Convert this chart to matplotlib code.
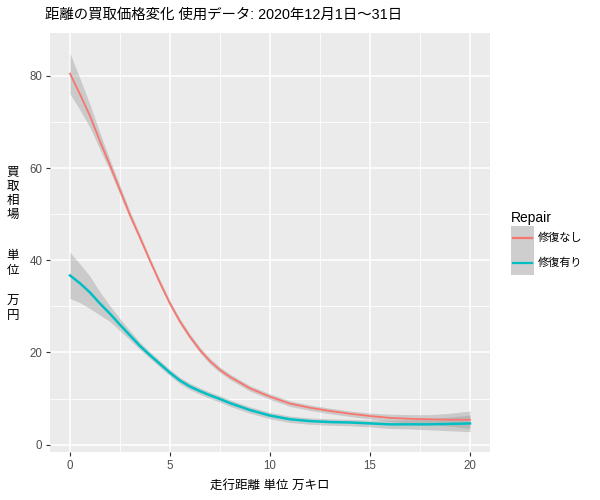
import numpy as np
import matplotlib.pyplot as plt
from matplotlib.patches import Rectangle
from matplotlib.lines import Line2D
from matplotlib.legend_handler import HandlerBase

plt.rcParams['font.family'] = ['Liberation Sans', 'Noto Sans CJK JP', 'DejaVu Sans']

# 走行距離 (万キロ) と買取相場 (万円) の平滑化曲線
kyori = np.array([0, 0.5, 1, 1.5, 2, 2.5, 3, 3.5, 4, 4.5, 5, 5.5, 6, 6.5, 7, 7.5, 8,
                  9, 10, 11, 12, 13, 14, 15, 16, 17, 18, 19, 20])
nashi = np.array([80.5, 76.0, 71.3, 65.8, 60.6, 55.2, 49.8, 44.9, 39.9, 35.1, 30.6,
                  26.7, 23.4, 20.5, 18.1, 16.2, 14.7, 12.2, 10.4, 8.9, 8.0, 7.3,
                  6.7, 6.2, 5.8, 5.6, 5.5, 5.4, 5.4])
ari = np.array([36.7, 35.0, 33.0, 30.6, 28.4, 26.0, 23.7, 21.4, 19.4, 17.5, 15.6,
                13.9, 12.6, 11.6, 10.7, 9.9, 9.0, 7.5, 6.3, 5.5, 5.1, 4.9,
                4.8, 4.6, 4.4, 4.4, 4.4, 4.5, 4.6])
# 信頼区間の半幅
nashi_se = np.array([4.4, 3.4, 2.5, 1.8, 1.2, 1.0, 0.8, 0.7, 0.6, 0.6, 0.6,
                     0.6, 0.6, 0.6, 0.6, 0.6, 0.6, 0.6, 0.6, 0.6, 0.6, 0.6,
                     0.6, 0.65, 0.8, 0.9, 1.0, 1.4, 1.9])
ari_se = np.array([5.0, 4.2, 3.5, 2.5, 1.7, 1.3, 1.0, 0.8, 0.7, 0.7, 0.7,
                   0.7, 0.7, 0.7, 0.7, 0.7, 0.7, 0.7, 0.7, 0.7, 0.7, 0.7,
                   0.7, 0.75, 0.9, 1.0, 1.2, 1.5, 1.8])

groups = ['修復なし', '修復有り']
colors = ['#F8766D', '#00BFC4']
widths = [1.3, 1.8]


class SmoothKey(HandlerBase):
    # ggplotの凡例キー: 灰色の帯 + 中央の線
    def create_artists(self, legend, orig_handle, xdescent, ydescent,
                       width, height, fontsize, trans):
        x0, y0 = -xdescent, -ydescent
        box = Rectangle((x0, y0), width, height, facecolor='#CECECE',
                        edgecolor='none', transform=trans)
        line = Line2D([x0 + 1.5, x0 + width - 1.5], [y0 + height / 2] * 2,
                      color=orig_handle.get_color(), lw=1.6, transform=trans)
        return [box, line]


fig = plt.figure(figsize=(6, 5), dpi=100)
ax = fig.add_axes([50 / 600, 48 / 500, 440 / 600, 419 / 500])
ax.set_facecolor('#EBEBEB')
for s in ax.spines.values():
    s.set_visible(False)

ax.set_xlim(-1, 21)
ax.set_ylim(-1.6, 89.3)
ax.set_xticks([0, 5, 10, 15, 20])
ax.set_xticks([2.5, 7.5, 12.5, 17.5], minor=True)
ax.set_yticks([0, 20, 40, 60, 80])
ax.set_yticks([10, 30, 50, 70], minor=True)
ax.grid(which='major', color='white', lw=1.1)
ax.grid(which='minor', color='white', lw=0.6)
ax.set_axisbelow(True)
ax.tick_params(which='major', length=3, width=0.8, color='#333333',
               labelcolor='#4D4D4D', labelsize=8.3, pad=2.5)
ax.tick_params(which='minor', length=0)

for y, se, c, lw in zip([nashi, ari], [nashi_se, ari_se], colors, widths):
    ax.fill_between(kyori, y - se, y + se, color='#999999', alpha=0.4, lw=0)
    ax.plot(kyori, y, color=c, lw=lw)

fig.text(45 / 600, 1 - 15 / 500, '距離の買取価格変化 使用データ: 2020年12月1日～31日',
         fontsize=10.4, ha='left', va='center')
fig.text(270 / 600, 1 - 486 / 500, '走行距離 単位 万キロ', fontsize=9,
         ha='center', va='center')
for txt, yc in [('買\n取\n相\n場', 194), ('単\n位', 263.5), ('万\n円', 309)]:
    fig.text(13 / 600, 1 - yc / 500, txt, fontsize=9, ha='center',
             va='center', linespacing=1.25)

handles = [Line2D([], [], color=c) for c in colors]
leg = fig.legend(handles, groups, title='Repair', loc='upper left',
                 bbox_to_anchor=(511 / 600, 1 - 211 / 500), frameon=False,
                 fontsize=8, title_fontsize=10, handlelength=2.1, handleheight=3.0,
                 labelspacing=0.05, handletextpad=0.3, borderpad=0, borderaxespad=0,
                 alignment='left', handler_map={Line2D: SmoothKey()})

fig.savefig('out.png', dpi=100)
